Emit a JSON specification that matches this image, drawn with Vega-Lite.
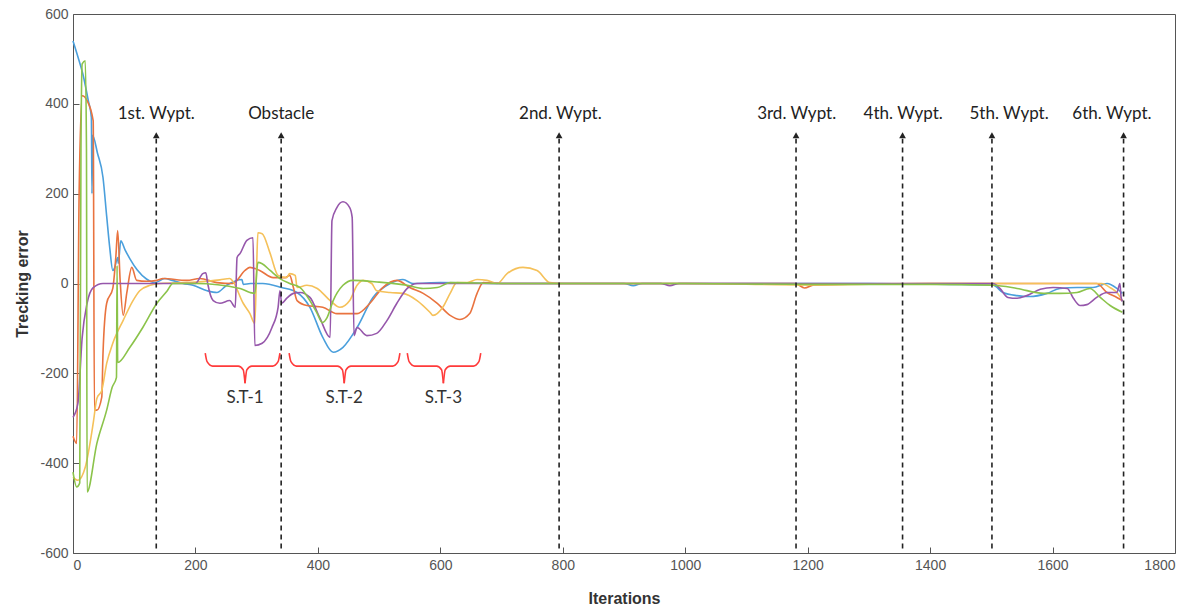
{
  "$schema": "https://vega.github.io/schema/vega-lite/v6.json",
  "width": 1102,
  "height": 539,
  "autosize": "none",
  "padding": {"left": 73, "top": 14, "right": 20, "bottom": 57},
  "background": "white",
  "config": {
    "view": {"stroke": "#555555", "strokeWidth": 1},
    "axis": {
      "grid": false,
      "domain": false,
      "offset": -6,
      "ticks": true,
      "tickColor": "#555555",
      "tickWidth": 1,
      "tickSize": 6,
      "labelPadding": 5,
      "labelFont": "Arial",
      "labelFontSize": 14,
      "labelColor": "#555555",
      "titleFont": "Arial",
      "titleFontSize": 16,
      "titleFontWeight": "bold",
      "titleColor": "#333333"
    }
  },
  "datasets": {
    "series": [
      {"s":"A","x":0,"y":540},{"s":"A","x":8,"y":505},{"s":"A","x":16,"y":467},{"s":"A","x":25,"y":407},{"s":"A","x":30,"y":370},{"s":"A","x":31,"y":200},{"s":"A","x":32,"y":330},{"s":"A","x":40,"y":290},{"s":"A","x":49,"y":236},{"s":"A","x":55,"y":150},{"s":"A","x":60,"y":80},{"s":"A","x":65,"y":29},{"s":"A","x":68,"y":35},{"s":"A","x":73,"y":58},{"s":"A","x":74,"y":45},{"s":"A","x":78,"y":95},{"s":"A","x":85,"y":75},{"s":"A","x":93,"y":55},{"s":"A","x":105,"y":30},{"s":"A","x":120,"y":10},{"s":"A","x":134,"y":2},{"s":"A","x":150,"y":11},{"s":"A","x":162,"y":7},{"s":"A","x":180,"y":0},{"s":"A","x":196,"y":-4},{"s":"A","x":219,"y":-16},{"s":"A","x":235,"y":-20},{"s":"A","x":251,"y":-4},{"s":"A","x":276,"y":9},{"s":"A","x":278,"y":-2},{"s":"A","x":290,"y":0},{"s":"A","x":310,"y":0},{"s":"A","x":341,"y":-9},{"s":"A","x":366,"y":-20},{"s":"A","x":387,"y":-53},{"s":"A","x":408,"y":-120},{"s":"A","x":425,"y":-153},{"s":"A","x":441,"y":-142},{"s":"A","x":464,"y":-98},{"s":"A","x":490,"y":-31},{"s":"A","x":518,"y":0},{"s":"A","x":539,"y":9},{"s":"A","x":555,"y":0},{"s":"A","x":600,"y":2},{"s":"A","x":700,"y":0},{"s":"A","x":800,"y":0},{"s":"A","x":900,"y":0},{"s":"A","x":915,"y":-5},{"s":"A","x":930,"y":0},{"s":"A","x":1100,"y":0},{"s":"A","x":1300,"y":0},{"s":"A","x":1432,"y":-2},{"s":"A","x":1503,"y":-4},{"s":"A","x":1519,"y":-20},{"s":"A","x":1542,"y":-27},{"s":"A","x":1563,"y":-29},{"s":"A","x":1591,"y":-22},{"s":"A","x":1612,"y":-11},{"s":"A","x":1640,"y":-9},{"s":"A","x":1666,"y":-9},{"s":"A","x":1689,"y":0},{"s":"A","x":1705,"y":-11},{"s":"A","x":1714,"y":-22},

      {"s":"B","x":0,"y":-340},{"s":"B","x":6,"y":-356},{"s":"B","x":10,"y":200},{"s":"B","x":15,"y":418},{"s":"B","x":23,"y":407},{"s":"B","x":33,"y":362},{"s":"B","x":35,"y":-282},{"s":"B","x":39,"y":-282},{"s":"B","x":47,"y":-253},{"s":"B","x":49,"y":-156},{"s":"B","x":55,"y":-44},{"s":"B","x":65,"y":-11},{"s":"B","x":70,"y":60},{"s":"B","x":73,"y":118},{"s":"B","x":77,"y":7},{"s":"B","x":82,"y":-71},{"s":"B","x":88,"y":-20},{"s":"B","x":96,"y":36},{"s":"B","x":104,"y":7},{"s":"B","x":120,"y":5},{"s":"B","x":137,"y":7},{"s":"B","x":147,"y":11},{"s":"B","x":186,"y":7},{"s":"B","x":207,"y":11},{"s":"B","x":235,"y":2},{"s":"B","x":261,"y":0},{"s":"B","x":281,"y":29},{"s":"B","x":289,"y":36},{"s":"B","x":305,"y":29},{"s":"B","x":327,"y":13},{"s":"B","x":346,"y":13},{"s":"B","x":354,"y":18},{"s":"B","x":360,"y":-9},{"s":"B","x":366,"y":-38},{"s":"B","x":382,"y":-49},{"s":"B","x":408,"y":-53},{"s":"B","x":431,"y":-67},{"s":"B","x":464,"y":-67},{"s":"B","x":485,"y":-44},{"s":"B","x":506,"y":-9},{"s":"B","x":529,"y":7},{"s":"B","x":550,"y":-9},{"s":"B","x":572,"y":-22},{"s":"B","x":595,"y":-44},{"s":"B","x":616,"y":-71},{"s":"B","x":632,"y":-80},{"s":"B","x":648,"y":-67},{"s":"B","x":660,"y":-22},{"s":"B","x":670,"y":2},{"s":"B","x":700,"y":0},{"s":"B","x":1000,"y":0},{"s":"B","x":1180,"y":0},{"s":"B","x":1195,"y":-10},{"s":"B","x":1210,"y":-3},{"s":"B","x":1400,"y":0},{"s":"B","x":1672,"y":0},{"s":"B","x":1689,"y":-20},{"s":"B","x":1705,"y":-31},{"s":"B","x":1714,"y":-38},

      {"s":"C","x":0,"y":-431},{"s":"C","x":8,"y":-438},{"s":"C","x":20,"y":-409},{"s":"C","x":33,"y":-311},{"s":"C","x":39,"y":-256},{"s":"C","x":47,"y":-238},{"s":"C","x":55,"y":-178},{"s":"C","x":65,"y":-133},{"s":"C","x":82,"y":-82},{"s":"C","x":98,"y":-38},{"s":"C","x":109,"y":-16},{"s":"C","x":126,"y":-4},{"s":"C","x":142,"y":0},{"s":"C","x":200,"y":3},{"s":"C","x":240,"y":8},{"s":"C","x":256,"y":11},{"s":"C","x":261,"y":5},{"s":"C","x":278,"y":-44},{"s":"C","x":289,"y":-67},{"s":"C","x":297,"y":-89},{"s":"C","x":300,"y":40},{"s":"C","x":302,"y":113},{"s":"C","x":309,"y":111},{"s":"C","x":322,"y":67},{"s":"C","x":335,"y":18},{"s":"C","x":349,"y":13},{"s":"C","x":354,"y":22},{"s":"C","x":363,"y":18},{"s":"C","x":366,"y":-9},{"s":"C","x":382,"y":-4},{"s":"C","x":399,"y":-11},{"s":"C","x":420,"y":-38},{"s":"C","x":436,"y":-53},{"s":"C","x":452,"y":-38},{"s":"C","x":464,"y":-4},{"s":"C","x":474,"y":7},{"s":"C","x":488,"y":0},{"s":"C","x":496,"y":-16},{"s":"C","x":518,"y":-20},{"s":"C","x":539,"y":-22},{"s":"C","x":562,"y":-38},{"s":"C","x":583,"y":-64},{"s":"C","x":588,"y":-71},{"s":"C","x":604,"y":-53},{"s":"C","x":616,"y":-22},{"s":"C","x":627,"y":2},{"s":"C","x":644,"y":2},{"s":"C","x":660,"y":9},{"s":"C","x":676,"y":7},{"s":"C","x":693,"y":0},{"s":"C","x":709,"y":22},{"s":"C","x":735,"y":36},{"s":"C","x":758,"y":29},{"s":"C","x":779,"y":2},{"s":"C","x":800,"y":0},{"s":"C","x":1000,"y":0},{"s":"C","x":1200,"y":-3},{"s":"C","x":1400,"y":0},{"s":"C","x":1680,"y":0},{"s":"C","x":1695,"y":-10},{"s":"C","x":1705,"y":-20},{"s":"C","x":1714,"y":-38},

      {"s":"D","x":0,"y":-298},{"s":"D","x":8,"y":-267},{"s":"D","x":15,"y":-120},{"s":"D","x":23,"y":-44},{"s":"D","x":33,"y":-9},{"s":"D","x":49,"y":0},{"s":"D","x":100,"y":0},{"s":"D","x":200,"y":0},{"s":"D","x":212,"y":22},{"s":"D","x":217,"y":24},{"s":"D","x":220,"y":0},{"s":"D","x":229,"y":-38},{"s":"D","x":240,"y":-44},{"s":"D","x":256,"y":-38},{"s":"D","x":265,"y":-53},{"s":"D","x":268,"y":58},{"s":"D","x":273,"y":67},{"s":"D","x":284,"y":96},{"s":"D","x":294,"y":102},{"s":"D","x":297,"y":-138},{"s":"D","x":309,"y":-133},{"s":"D","x":325,"y":-98},{"s":"D","x":335,"y":-53},{"s":"D","x":338,"y":-16},{"s":"D","x":341,"y":-44},{"s":"D","x":349,"y":-33},{"s":"D","x":360,"y":-22},{"s":"D","x":371,"y":-20},{"s":"D","x":387,"y":-31},{"s":"D","x":403,"y":-76},{"s":"D","x":420,"y":-120},{"s":"D","x":423,"y":140},{"s":"D","x":431,"y":169},{"s":"D","x":441,"y":182},{"s":"D","x":452,"y":169},{"s":"D","x":456,"y":147},{"s":"D","x":459,"y":-116},{"s":"D","x":464,"y":-98},{"s":"D","x":480,"y":-116},{"s":"D","x":496,"y":-111},{"s":"D","x":513,"y":-82},{"s":"D","x":529,"y":-44},{"s":"D","x":546,"y":-11},{"s":"D","x":562,"y":0},{"s":"D","x":700,"y":0},{"s":"D","x":960,"y":0},{"s":"D","x":975,"y":-5},{"s":"D","x":990,"y":0},{"s":"D","x":1400,"y":0},{"s":"D","x":1503,"y":0},{"s":"D","x":1514,"y":-11},{"s":"D","x":1527,"y":-31},{"s":"D","x":1542,"y":-33},{"s":"D","x":1558,"y":-27},{"s":"D","x":1580,"y":-13},{"s":"D","x":1601,"y":-9},{"s":"D","x":1624,"y":-11},{"s":"D","x":1634,"y":-33},{"s":"D","x":1645,"y":-49},{"s":"D","x":1656,"y":-47},{"s":"D","x":1672,"y":-31},{"s":"D","x":1689,"y":-20},{"s":"D","x":1705,"y":-20},{"s":"D","x":1710,"y":0},{"s":"D","x":1712,"y":-31},{"s":"D","x":1714,"y":-40},

      {"s":"E","x":0,"y":-420},{"s":"E","x":6,"y":-453},{"s":"E","x":11,"y":-444},{"s":"E","x":13,"y":300},{"s":"E","x":15,"y":489},{"s":"E","x":20,"y":496},{"s":"E","x":22,"y":300},{"s":"E","x":23,"y":-464},{"s":"E","x":39,"y":-356},{"s":"E","x":55,"y":-282},{"s":"E","x":64,"y":-231},{"s":"E","x":71,"y":-209},{"s":"E","x":72,"y":40},{"s":"E","x":73,"y":-176},{"s":"E","x":93,"y":-142},{"s":"E","x":114,"y":-98},{"s":"E","x":137,"y":-44},{"s":"E","x":154,"y":-16},{"s":"E","x":163,"y":0},{"s":"E","x":200,"y":0},{"s":"E","x":273,"y":-11},{"s":"E","x":289,"y":-20},{"s":"E","x":297,"y":-22},{"s":"E","x":302,"y":47},{"s":"E","x":309,"y":44},{"s":"E","x":322,"y":29},{"s":"E","x":338,"y":11},{"s":"E","x":354,"y":0},{"s":"E","x":371,"y":-9},{"s":"E","x":387,"y":-38},{"s":"E","x":399,"y":-67},{"s":"E","x":407,"y":-87},{"s":"E","x":415,"y":-76},{"s":"E","x":425,"y":-38},{"s":"E","x":441,"y":-4},{"s":"E","x":457,"y":7},{"s":"E","x":500,"y":3},{"s":"E","x":546,"y":-4},{"s":"E","x":572,"y":-11},{"s":"E","x":595,"y":-9},{"s":"E","x":616,"y":2},{"s":"E","x":700,"y":0},{"s":"E","x":1000,"y":0},{"s":"E","x":1200,"y":-2},{"s":"E","x":1400,"y":-2},{"s":"E","x":1503,"y":-4},{"s":"E","x":1542,"y":-11},{"s":"E","x":1585,"y":-22},{"s":"E","x":1612,"y":-22},{"s":"E","x":1640,"y":-20},{"s":"E","x":1661,"y":-11},{"s":"E","x":1678,"y":-31},{"s":"E","x":1694,"y":-49},{"s":"E","x":1714,"y":-64}
    ],
    "waypoints": [
      {"name":"1st. Wypt.","x":136,"lx":136},
      {"name":"Obstacle","x":340,"lx":340},
      {"name":"2nd. Wypt.","x":794,"lx":796},
      {"name":"3rd. Wypt.","x":1181,"lx":1182},
      {"name":"4th. Wypt.","x":1355,"lx":1356},
      {"name":"5th. Wypt.","x":1501,"lx":1529},
      {"name":"6th. Wypt.","x":1716,"lx":1697}
    ],
    "braces": [
      {"b":"1","h":"L","x":216,"y":-155},{"b":"1","h":"L","x":219,"y":-174},{"b":"1","h":"L","x":228,"y":-184},{"b":"1","h":"L","x":270,"y":-184},{"b":"1","h":"L","x":278,"y":-192},{"b":"1","h":"L","x":281,"y":-222},
      {"b":"1","h":"R","x":281,"y":-222},{"b":"1","h":"R","x":284,"y":-192},{"b":"1","h":"R","x":292,"y":-184},{"b":"1","h":"R","x":326,"y":-184},{"b":"1","h":"R","x":335,"y":-174},{"b":"1","h":"R","x":338,"y":-155},
      {"b":"2","h":"L","x":353,"y":-155},{"b":"2","h":"L","x":356,"y":-174},{"b":"2","h":"L","x":365,"y":-184},{"b":"2","h":"L","x":432,"y":-184},{"b":"2","h":"L","x":440,"y":-192},{"b":"2","h":"L","x":443,"y":-222},
      {"b":"2","h":"R","x":443,"y":-222},{"b":"2","h":"R","x":446,"y":-192},{"b":"2","h":"R","x":454,"y":-184},{"b":"2","h":"R","x":522,"y":-184},{"b":"2","h":"R","x":531,"y":-174},{"b":"2","h":"R","x":534,"y":-155},
      {"b":"3","h":"L","x":546,"y":-155},{"b":"3","h":"L","x":549,"y":-174},{"b":"3","h":"L","x":558,"y":-184},{"b":"3","h":"L","x":594,"y":-184},{"b":"3","h":"L","x":602,"y":-192},{"b":"3","h":"L","x":605,"y":-222},
      {"b":"3","h":"R","x":605,"y":-222},{"b":"3","h":"R","x":608,"y":-192},{"b":"3","h":"R","x":616,"y":-184},{"b":"3","h":"R","x":654,"y":-184},{"b":"3","h":"R","x":663,"y":-174},{"b":"3","h":"R","x":666,"y":-155}
    ],
    "bracelabels": [
      {"t":"S.T-1","x":281},
      {"t":"S.T-2","x":443},
      {"t":"S.T-3","x":605}
    ]
  },
  "layer": [
    {
      "data": {"name": "series"},
      "mark": {"type": "line", "strokeWidth": 1.6, "interpolate": "monotone"},
      "encoding": {
        "x": {"field": "x", "type": "quantitative", "title": "Iterations",
              "scale": {"domain": [0, 1800], "nice": false},
              "axis": {"values": [0,200,400,600,800,1000,1200,1400,1600,1800], "labelExpr": "'' + datum.value", "titlePadding": 18}},
        "y": {"field": "y", "type": "quantitative", "title": "Trecking error",
              "scale": {"domain": [-600, 600], "nice": false},
              "axis": {"values": [-600,-400,-200,0,200,400,600], "labelExpr": "'' + datum.value", "titlePadding": 9}},
        "color": {"field": "s", "type": "nominal", "legend": null,
                  "scale": {"domain": ["A","B","C","D","E"],
                            "range": ["#4a9fdc", "#e9733f", "#f5c15a", "#9657ab", "#8bc34a"]}},
        "detail": {"field": "s"}
      }
    },
    {
      "data": {"name": "waypoints"},
      "mark": {"type": "rule", "color": "#222222", "strokeWidth": 1.6, "strokeDash": [5, 4]},
      "encoding": {
        "x": {"field": "x", "type": "quantitative", "title": "Iterations"},
        "y": {"datum": -590, "type": "quantitative", "title": "Trecking error"},
        "y2": {"datum": 322}
      }
    },
    {
      "data": {"name": "waypoints"},
      "mark": {"type": "point", "shape": "triangle-up", "filled": true, "color": "#222222", "size": 45, "opacity": 1},
      "encoding": {
        "x": {"field": "x", "type": "quantitative", "title": "Iterations"},
        "y": {"datum": 330, "type": "quantitative", "title": "Trecking error"}
      }
    },
    {
      "data": {"name": "waypoints"},
      "mark": {"type": "text", "font": "Lato", "fontSize": 17, "color": "#222222", "baseline": "middle", "align": "center"},
      "encoding": {
        "x": {"field": "lx", "type": "quantitative", "title": "Iterations"},
        "y": {"datum": 378, "type": "quantitative", "title": "Trecking error"},
        "text": {"field": "name"}
      }
    },
    {
      "data": {"name": "braces"},
      "mark": {"type": "line", "color": "#ff3b3b", "strokeWidth": 1.6, "interpolate": "monotone"},
      "encoding": {
        "x": {"field": "x", "type": "quantitative", "title": "Iterations"},
        "y": {"field": "y", "type": "quantitative", "title": "Trecking error"},
        "detail": [{"field": "b"}, {"field": "h"}]
      }
    },
    {
      "data": {"name": "bracelabels"},
      "mark": {"type": "text", "font": "Lato", "fontSize": 17, "color": "#333333", "baseline": "middle", "align": "center"},
      "encoding": {
        "x": {"field": "x", "type": "quantitative", "title": "Iterations"},
        "y": {"datum": -255, "type": "quantitative", "title": "Trecking error"},
        "text": {"field": "t"}
      }
    }
  ]
}
